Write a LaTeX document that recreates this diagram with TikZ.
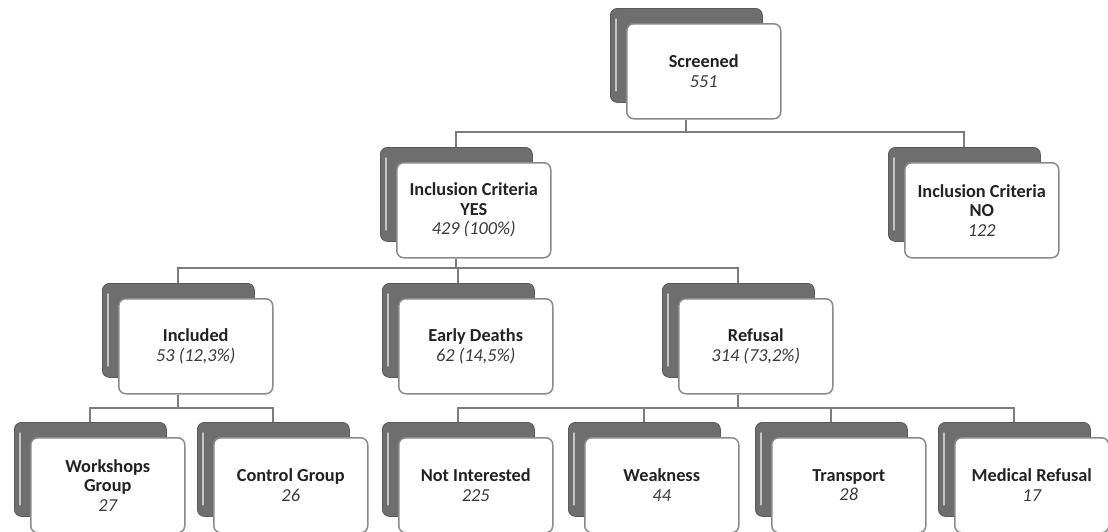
\documentclass[tikz,border=0pt]{standalone}
\usepackage{fontspec}
\setmainfont{Carlito}
\definecolor{backgray}{HTML}{6E6E6E}
\definecolor{backdark}{HTML}{5A5A5A}
\definecolor{hlgray}{HTML}{C4C4C4}
\definecolor{frontline}{HTML}{8A8A8A}
\definecolor{textdark}{HTML}{222222}
\definecolor{numgray}{HTML}{3A3A3A}
\definecolor{linegray}{HTML}{7C7C7C}
\tikzset{
  backbox/.style={draw=backdark, fill=backgray, rounded corners=7pt, minimum width=152pt, minimum height=94pt, anchor=north west, inner sep=0pt, line width=0.8pt},
  frontbox/.style={draw=frontline, fill=white, rounded corners=7pt, minimum width=154pt, minimum height=95pt, anchor=north west, inner sep=2pt, align=center, font=\fontsize{18.3}{19.5}\selectfont\bfseries, text=textdark, line width=1.5pt},
  conn/.style={draw=linegray, line width=2pt},
  hl/.style={draw=hlgray, line width=1.8pt, line cap=round}
}
\newcommand\cntt[1]{{\mdseries\itshape\color{numgray}#1}}
\newcommand\stackbox[4]{%
  \node[backbox] (#1b) at (#2,#3) {};
  \draw[hl] ([xshift=6pt,yshift=-11pt]#1b.north west) -- ([xshift=6pt,yshift=12pt]#1b.south west);
  \node[frontbox] (#1) at ({#2+16},{#3+15}) {#4};
}
\begin{document}
\begin{tikzpicture}[x=1pt,y=-1pt]
\useasboundingbox (0,0) rectangle (1108,531);
\fill[white] (0,0) rectangle (1108,531);
\coordinate (bar0) at (0,132);
\coordinate (bar1) at (0,268);
\coordinate (bar2) at (0,407.5);

\stackbox{scr}{610}{8}{Screened\\\cntt{551}}
\stackbox{yes}{380}{147}{Inclusion Criteria\\YES\\\cntt{429 (100\%)}}
\stackbox{no}{888}{147}{Inclusion Criteria\\NO\\\cntt{122}}
\stackbox{inc}{102}{283}{Included\\\cntt{53 (12,3\%)}}
\stackbox{ed}{382}{283}{Early Deaths\\\cntt{62 (14,5\%)}}
\stackbox{ref}{662}{283}{Refusal\\\cntt{314 (73,2\%)}}
\stackbox{ws}{14}{422}{Workshops\\Group\\\cntt{27}}
\stackbox{cg}{197}{422}{Control Group\\\cntt{26}}
\stackbox{ni}{382}{422}{Not Interested\\\cntt{225}}
\stackbox{wk}{568}{422}{Weakness\\\cntt{44}}
\stackbox{tr}{755}{422}{Transport\\\cntt{28}}
\stackbox{mr}{938}{422}{Medical Refusal\\\cntt{17}}

% level 0 -> 1
\draw[conn] (scrb.center |- scr.south) -- (scrb.center |- bar0);
\draw[conn] (yesb.north) -- (yesb.north |- bar0) -- (nob.north |- bar0) -- (nob.north);
% level 1 -> 2
\draw[conn] (yesb.center |- yes.south) -- (yesb.center |- bar1);
\draw[conn] (incb.north) -- (incb.north |- bar1) -- (refb.north |- bar1) -- (refb.north);
\draw[conn] (edb.north) -- (edb.north |- bar1);
% included -> groups
\draw[conn] (incb.center |- inc.south) -- (incb.center |- bar2);
\draw[conn] (wsb.north) -- (wsb.north |- bar2) -- (cgb.north |- bar2) -- (cgb.north);
% refusal -> reasons
\draw[conn] (refb.center |- ref.south) -- (refb.center |- bar2);
\draw[conn] (nib.north) -- (nib.north |- bar2) -- (mrb.north |- bar2) -- (mrb.north);
\draw[conn] (wkb.north) -- (wkb.north |- bar2);
\draw[conn] (trb.north) -- (trb.north |- bar2);
\end{tikzpicture}
\end{document}
